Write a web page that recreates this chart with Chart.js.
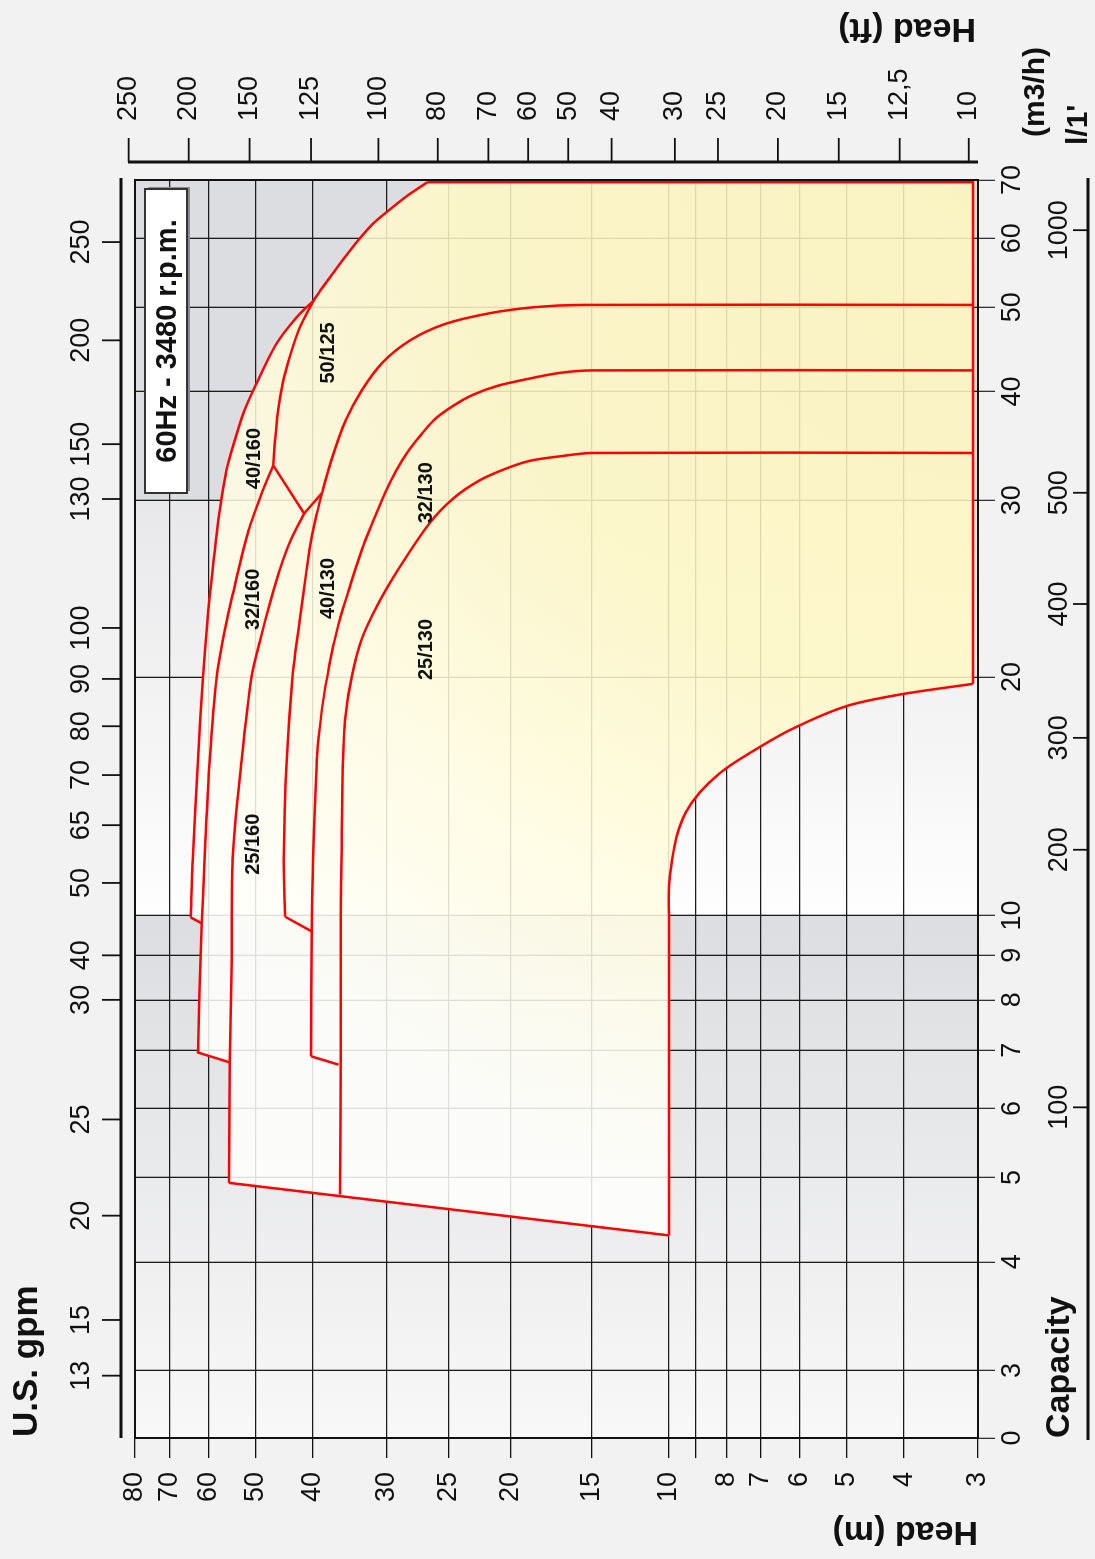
<!DOCTYPE html>
<html lang="en">
<head>
<meta charset="UTF-8">
<title>60Hz - 3480 r.p.m. coverage chart</title>
<style>
  html, body { margin: 0; padding: 0; background: #f2f2f2; overflow: hidden; }
  /* the chart is drawn upright (capacity across) and turned a quarter turn */
  #turn { position: absolute; left: 0; top: 0; width: 1559px; height: 1095px;
          transform-origin: 0 0; transform: translateY(1559px) rotate(-90deg); }
  canvas { display: block; }
</style>
</head>
<body>
<div id="turn"><canvas id="chart" width="1559" height="1095"></canvas></div>
<script src="https://cdn.jsdelivr.net/npm/chart.js"></script>
<script>
const FONT = '"Liberation Sans", Arial, Helvetica, sans-serif';
const INK = '#111';
const RED = '#ff0000';
const GRID = '#1c1c1c';

// capacity axis (m3/h); "0" is printed at the low end of the log axis
const capTicks = [0, 3, 4, 5, 6, 7, 8, 9, 10, 20, 30, 40, 50, 60, 70];
// head axis (m)
const headTicks = [3, 4, 5, 6, 7, 8, 9, 10, 15, 20, 25, 30, 40, 50, 60, 70, 80];
const headLabels = ['3', '4', '5', '6', '7', '8', '', '10', '15', '20', '25', '30', '40', '50', '60', '70', '80'];

// the printed grid is not a true log grid between 10 and 30:
// [printed value, log position where that line is drawn]
const capPrinted = [[10, 10], [20, 18.8], [30, 30]];
const headPrinted = [[10, 10], [15, 13.5], [20, 18.5], [25, 23.6], [30, 30]];

// secondary scales: label text and where it sits (m3/h or m on the main log axes)
const gpmLabels = ['13', '15', '20', '25', '30', '40', '50', '65', '70', '80', '90', '100', '130', '150', '200', '250'];
const gpmAt = [2.96, 3.43, 4.52, 5.83, 8.0, 9.0, 10.9, 12.7, 14.5, 16.5, 18.7, 21.4, 30.1, 34.8, 45.8, 59.4];
const lpmLabels = ['100', '200', '300', '400', '500', '1000'];
const lpmAt = [6.02, 11.9, 16.0, 22.8, 30.6, 61.3];
const ftLabels = ['10', '12,5', '15', '20', '25', '30', '40', '50', '60', '70', '80', '100', '125', '150', '200', '250'];
const ftAt = [3.11, 4.07, 5.16, 6.54, 8.26, 9.77, 12.5, 14.8, 17.3, 20.2, 24.6, 31.0, 40.3, 51.2, 64.9, 82.0];

// outline of the covered field, [capacity m3/h, head m]
const minFlowEdge = [[4.93, 55.5], [4.29, 10]];
const lowHeadEdge = [[4.29, 10], [10.0, 10.0], [10.91, 10.0], [11.74, 9.88], [12.63, 9.69], [13.5, 9.36],
  [14.31, 8.86], [15.12, 8.2], [15.89, 7.44], [17.14, 6.24], [18.38, 5.0], [19.03, 4.02], [19.6, 3.06]];
const maxFlowEdge = [[19.6, 3.06], [69.6, 3.06], [69.6, 26.6]];
const topEdge50 = [[69.6, 26.6], [67.2, 28.2], [64.8, 29.7], [62.3, 31.7], [59.6, 33.6], [57.1, 35.3],
  [54.7, 37.0], [52.6, 38.6], [50.9, 39.9]];
const topEdge40 = [[50.9, 39.9], [48.7, 42.6], [45.4, 46.1], [40.9, 49.8], [38.1, 52.2], [35.2, 54.2],
  [32.5, 56.0], [29.3, 57.5], [25.6, 59.1], [22.8, 60.3], [20.0, 61.4], [15.7, 62.6], [11.74, 63.9], [9.95, 64.4]];
const stepEdge = [[9.95, 64.4], [9.8, 61.7], [8.2, 62.2], [6.96, 62.6], [6.78, 55.3], [4.93, 55.5]];

// inner pump curves
const curve32160 = [[9.8, 61.7], [11.74, 61.0], [15.7, 59.8], [20.0, 58.2], [22.5, 56.2], [25.4, 53.6],
  [28.2, 51.2], [30.6, 48.8], [32.9, 46.7]];
const curve25160 = [[6.78, 55.3], [8.88, 54.9], [11.74, 54.7], [15.7, 52.8], [20.0, 50.8], [21.9, 49.0],
  [23.7, 47.3], [25.6, 45.5], [27.4, 43.6], [29.1, 41.4]];
const curve50125 = [[50.9, 39.9], [47.4, 42.1], [43.8, 43.8], [40.9, 45.0], [37.8, 45.9], [34.9, 46.4], [32.9, 46.7]];
const vLine = [[32.9, 46.7], [29.1, 41.4], [30.6, 38.6]];
const step40130 = [[9.59, 40.2], [9.97, 44.6]];
const curve40130 = [[9.97, 44.6], [11.74, 44.8], [15.7, 44.3], [20.0, 43.3], [22.8, 42.1], [25.6, 41.0],
  [27.6, 40.2], [29.1, 39.4], [30.6, 38.6], [33.8, 37.0], [37.1, 35.2], [40.1, 33.1], [43.2, 30.5],
  [45.8, 28.0], [47.8, 25.3], [49.2, 21.6], [50.0, 18.4], [50.3, 15.6], [50.3, 3.06]];
const step32130 = [[6.74, 36.2], [6.89, 40.3]];
const curve32130 = [[6.89, 40.3], [9.59, 40.2], [11.74, 40.0], [15.7, 39.4], [17.4, 38.9], [19.0, 38.3],
  [20.4, 37.6], [21.7, 36.8], [23.0, 35.9], [24.4, 34.8], [25.9, 33.7], [27.4, 32.6], [28.9, 31.4],
  [30.6, 30.2], [32.4, 29.2], [34.1, 28.2], [35.7, 27.1], [37.2, 26.0], [38.5, 24.6], [39.6, 23.0],
  [40.6, 21.0], [41.3, 19.0], [42.0, 16.9], [42.3, 15.0], [42.3, 3.06]];
const curve25130 = [[4.78, 36.0], [7.0, 35.9], [10.0, 35.9], [11.74, 35.8], [15.7, 35.6], [17.64, 35.3],
  [20.0, 34.4], [21.8, 33.1], [23.6, 31.1], [25.6, 29.0], [28.5, 26.4], [30.2, 24.5], [31.6, 22.4],
  [32.6, 20.4], [33.3, 18.7], [33.7, 16.8], [34.0, 15.0], [34.0, 3.06]];

// model names and where they are written
const modelNames = ['50/125', '40/160', '32/160', '25/160', '40/130', '32/130', '25/130'];
const modelCap = [44.3, 33.5, 23.9, 12.3, 24.5, 30.6, 21.3];
const modelHead = [37.7, 50.2, 50.4, 50.4, 37.7, 26.7, 26.7];

Chart.defaults.font.family = FONT;
Chart.defaults.color = INK;

function warp(v, table) {
  for (let i = 0; i < table.length - 1; i++) {
    const [v0, p0] = table[i], [v1, p1] = table[i + 1];
    if (v >= v0 && v <= v1) {
      const t = Math.log(v / v0) / Math.log(v1 / v0);
      return p0 * Math.pow(p1 / p0, t);
    }
  }
  return v;
}

const printed = { x: capPrinted, y: headPrinted };
class PrintedLogScale extends Chart.LogarithmicScale {
  getPixelForValue(value) {
    return super.getPixelForValue(warp(value, printed[this.id] || []));
  }
}
PrintedLogScale.id = 'printedLog';
Chart.register(PrintedLogScale);

const xy = pts => pts.map(([x, y]) => ({ x, y }));
const envelope = [...minFlowEdge, ...lowHeadEdge, ...maxFlowEdge, ...topEdge50, ...topEdge40, ...stepEdge];

function outline(points, tension) {
  return { data: xy(points), showLine: true, fill: false, borderColor: RED, borderWidth: 2.5,
           pointRadius: 0, tension, order: 0 };
}

function fieldFill(c) {
  const a = c.chart.chartArea;
  if (!a) return 'rgba(255,250,205,0.86)';
  const g = c.chart.ctx.createRadialGradient(a.right, a.bottom, 0, a.right, a.bottom, 1050);
  g.addColorStop(0, 'rgba(255,246,188,0.86)');
  g.addColorStop(0.5, 'rgba(255,248,198,0.86)');
  g.addColorStop(0.78, 'rgba(255,253,228,0.86)');
  g.addColorStop(1, 'rgba(255,255,252,0.86)');
  return g;
}

function line(ctx, x1, y1, x2, y2) {
  ctx.beginPath(); ctx.moveTo(x1, y1); ctx.lineTo(x2, y2); ctx.stroke();
}

const frame = {
  id: 'frame',
  beforeDraw(chart) {
    const { ctx, chartArea: a, scales: { x } } = chart;
    const x10 = x.getPixelForValue(10), x30 = x.getPixelForValue(30);
    const h = a.bottom - a.top;
    ctx.save();
    ctx.fillStyle = '#f2f2f2';
    ctx.fillRect(0, 0, chart.width, chart.height);
    let g = ctx.createLinearGradient(a.left, 0, x10, 0);
    g.addColorStop(0, '#f8f8f8');
    g.addColorStop(1, '#dcdde0');
    ctx.fillStyle = g;
    ctx.fillRect(a.left, a.top, x10 - a.left, h);
    g = ctx.createLinearGradient(x10, 0, x30, 0);
    g.addColorStop(0, '#fefefe');
    g.addColorStop(1, '#e8e8ea');
    ctx.fillStyle = g;
    ctx.fillRect(x10, a.top, x30 - x10, h);
    ctx.fillStyle = '#dcdde0';
    ctx.fillRect(x30, a.top, a.right - x30, h);
    ctx.restore();
  },
  afterDatasetsDraw(chart) {
    const { ctx, scales: { x, y } } = chart;
    ctx.save();
    ctx.fillStyle = INK;
    ctx.font = 'bold 20px ' + FONT;
    ctx.textAlign = 'center';
    ctx.textBaseline = 'middle';
    modelNames.forEach((name, i) => {
      ctx.fillText(name, x.getPixelForValue(modelCap[i]), y.getPixelForValue(modelHead[i]));
    });
    ctx.restore();
  },
  afterDraw(chart) {
    const { ctx, chartArea: a, scales } = chart;
    ctx.save();
    ctx.strokeStyle = INK;
    ctx.lineWidth = 2;
    ctx.strokeRect(a.left, a.top, a.right - a.left, a.bottom - a.top);

    // secondary axes: line plus outward ticks
    const gpmY = a.top - 14, ftX = a.right + 18, lpmY = a.bottom + 110;
    ctx.lineWidth = 3;
    line(ctx, a.left, gpmY, a.right + 2, gpmY);
    line(ctx, ftX, a.top - 7, ftX, a.bottom);
    line(ctx, a.left - 2, lpmY, a.right + 2, lpmY);
    ctx.lineWidth = 1.8;
    gpmAt.forEach(v => { const p = scales.x2.getPixelForValue(v); line(ctx, p, gpmY, p, gpmY - 19); });
    ftAt.forEach(v => { const p = scales.y2.getPixelForValue(v); line(ctx, ftX, p, ftX + 24, p); });
    lpmAt.forEach(v => { const p = scales.x3.getPixelForValue(v); line(ctx, p, lpmY, p, lpmY - 15); });

    // axis titles
    ctx.fillStyle = INK;
    ctx.textAlign = 'left';
    ctx.textBaseline = 'alphabetic';
    ctx.font = 'bold 35px ' + FONT;
    ctx.fillText('U.S. gpm', a.left + 1, 37);
    ctx.font = 'bold 34px ' + FONT;
    ctx.fillText('Capacity', a.left, 1069);
    ctx.font = 'bold 30px ' + FONT;
    ctx.fillText('(m3/h)', 1422, 1044);
    ctx.fillText("l/1'", 1414, 1087);
    ctx.font = 'bold 34px ' + FONT;
    ctx.save();
    ctx.translate(37, a.bottom);
    ctx.rotate(-Math.PI / 2);
    ctx.fillText('Head (m)', 0, 0);
    ctx.restore();
    ctx.save();
    ctx.translate(1540, a.bottom - 2);
    ctx.rotate(-Math.PI / 2);
    ctx.fillText('Head (ft)', 0, 0);
    ctx.restore();

    // speed box
    ctx.fillStyle = '#8a8a8a';
    ctx.fillRect(1068, 148, 304, 42);
    ctx.fillStyle = '#ffffff';
    ctx.fillRect(1066, 145, 304, 42);
    ctx.strokeStyle = '#333';
    ctx.lineWidth = 2;
    ctx.strokeRect(1066, 145, 304, 42);
    ctx.fillStyle = INK;
    ctx.font = 'bold 29px ' + FONT;
    ctx.textAlign = 'center';
    ctx.fillText('60Hz - 3480 r.p.m.', 1218, 176);
    ctx.restore();
  }
};

const tickFont = { size: 27 };
const fixedTicks = values => s => { s.ticks = values.map(v => ({ value: v })); };

new Chart(document.getElementById('chart'), {
  type: 'scatter',
  data: {
    datasets: [
      { data: xy(envelope), showLine: true, fill: 'shape', borderWidth: 0, pointRadius: 0,
        backgroundColor: fieldFill, order: 1 },
      outline(minFlowEdge, 0),
      outline(lowHeadEdge, 0.3),
      outline(maxFlowEdge, 0),
      outline(topEdge50, 0.3),
      outline(topEdge40, 0.3),
      outline(stepEdge, 0),
      outline(curve32160, 0.3),
      outline(curve25160, 0.3),
      outline(curve50125, 0.3),
      outline(vLine, 0),
      outline(step40130, 0),
      outline(curve40130, 0.3),
      outline(step32130, 0),
      outline(curve32130, 0.3),
      outline(curve25130, 0.3)
    ]
  },
  options: {
    responsive: false,
    devicePixelRatio: 1,
    animation: false,
    events: [],
    layout: { padding: 0 },
    plugins: { legend: { display: false }, tooltip: { enabled: false } },
    scales: {
      x: {
        type: 'printedLog', position: 'bottom', weight: 0, min: 2.51, max: 70,
        afterBuildTicks: fixedTicks(capTicks),
        afterFit: s => { s.height = 60; },
        grid: { color: GRID, lineWidth: 1.3, tickLength: 17, tickColor: '#333' },
        border: { display: false },
        ticks: { autoSkip: false, minRotation: 0, maxRotation: 0, padding: 1, font: tickFont,
                 callback: (v, i) => String(capTicks[i]) }
      },
      x3: {
        type: 'logarithmic', position: 'bottom', weight: 1, min: 2.51, max: 70,
        afterBuildTicks: fixedTicks(lpmAt),
        afterFit: s => { s.height = 57; },
        grid: { display: false, drawTicks: false },
        border: { display: false },
        ticks: { autoSkip: false, minRotation: 0, maxRotation: 0, padding: 5, font: tickFont,
                 callback: (v, i) => lpmLabels[i] }
      },
      x2: {
        type: 'logarithmic', position: 'top', min: 2.51, max: 70,
        afterBuildTicks: fixedTicks(gpmAt),
        afterFit: s => { s.height = 135; },
        grid: { display: false, drawTicks: false },
        border: { display: false },
        ticks: { autoSkip: false, minRotation: 0, maxRotation: 0, padding: 37, font: tickFont,
                 callback: (v, i) => gpmLabels[i] }
      },
      y: {
        type: 'printedLog', position: 'left', min: 3, max: 80,
        afterBuildTicks: fixedTicks(headTicks),
        afterFit: s => { s.width = 121; },
        grid: { color: GRID, lineWidth: 1.3, tickLength: 20, tickColor: INK },
        border: { display: false },
        ticks: { autoSkip: false, padding: 14, font: tickFont, callback: (v, i) => headLabels[i] }
      },
      y2: {
        type: 'logarithmic', position: 'right', min: 3, max: 80,
        afterBuildTicks: fixedTicks(ftAt),
        afterFit: s => { s.width = 180; },
        grid: { display: false, drawTicks: false },
        border: { display: false },
        ticks: { autoSkip: false, padding: 59, font: tickFont, callback: (v, i) => ftLabels[i] }
      }
    }
  },
  plugins: [frame]
});
</script>
</body>
</html>
